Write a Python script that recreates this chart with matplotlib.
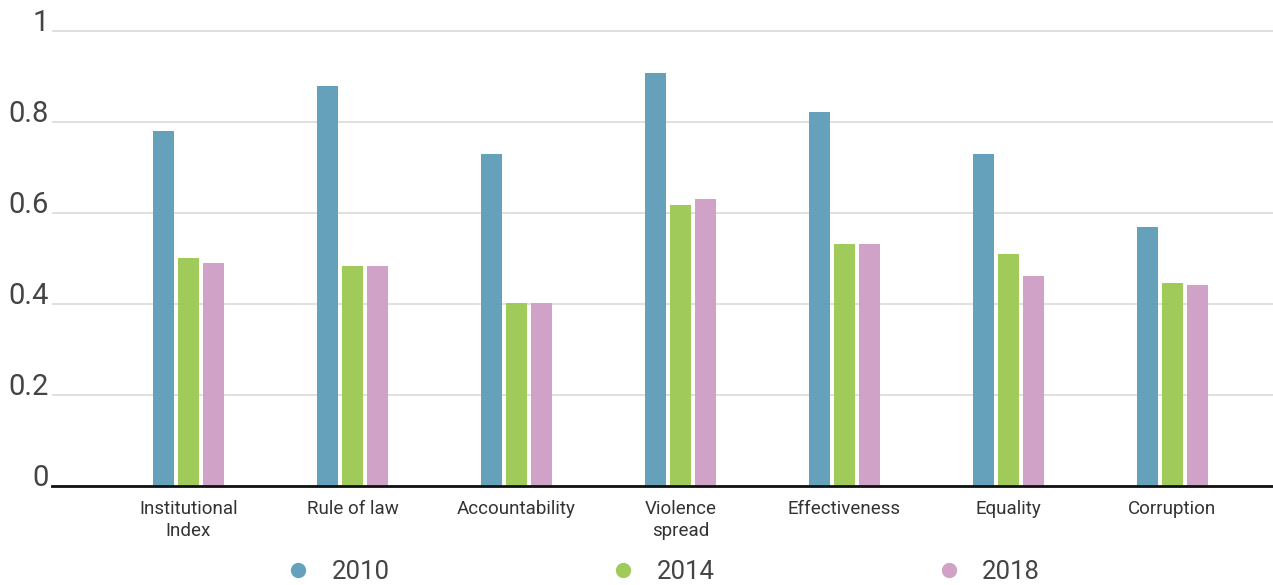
import numpy as np
import matplotlib.pyplot as plt
from matplotlib.lines import Line2D

categories = ['Institutional\nIndex', 'Rule of law', 'Accountability', 'Violence\nspread',
              'Effectiveness', 'Equality', 'Corruption']
years = ['2010', '2014', '2018']
vals_2010 = [0.780, 0.879, 0.730, 0.908, 0.822, 0.730, 0.569]
vals_2014 = [0.501, 0.484, 0.402, 0.618, 0.532, 0.510, 0.446]
vals_2018 = [0.490, 0.484, 0.402, 0.631, 0.532, 0.462, 0.442]
colors = ['#66a1bc', '#a0cb5a', '#d0a2c8']

plt.rcParams['font.family'] = ['Roboto', 'DejaVu Sans']
text_color = '#444444'

fig = plt.figure(figsize=(12.73, 5.85), dpi=100)
W, H = 1273, 585
ax = fig.add_axes([52 / W, (H - 486) / H, 1 - 52 / W, (486 - 25) / H])

x = np.arange(len(categories))
width = 0.128
step = 0.152
for i, (vals, c) in enumerate(zip([vals_2010, vals_2014, vals_2018], colors)):
    ax.bar(x + (i - 1) * step, vals, width=width, color=c, zorder=3)

ax.set_xlim(-0.832, 6.613)
ax.set_ylim(0, 461 / 455)
ax.set_yticks([0, 0.2, 0.4, 0.6, 0.8, 1.0])
ax.set_yticklabels(['0', '0.2', '0.4', '0.6', '0.8', '1'])
ax.yaxis.grid(True, color='#dddddd', linewidth=1.3, zorder=0)
ax.set_axisbelow(True)
ax.tick_params(axis='y', length=0, pad=2, labelsize=21, labelcolor=text_color)
for lab in ax.get_yticklabels():
    lab.set_verticalalignment('baseline')

ax.set_xticks(x)
ax.set_xticklabels(categories, linespacing=1.3)
ax.tick_params(axis='x', length=0, pad=10, labelsize=13.5, labelcolor='#333333')

for s in ['top', 'right', 'left']:
    ax.spines[s].set_visible(False)
ax.spines['bottom'].set_color('#111111')
ax.spines['bottom'].set_linewidth(2)
ax.spines['bottom'].set_zorder(4)

handles = [Line2D([], [], linestyle='none', marker='o', markersize=10,
                  markerfacecolor=c, markeredgecolor=c) for c in colors]
leg = fig.legend(handles, years, loc='center', bbox_to_anchor=(0.518, 1 - 572 / H),
                 ncol=3, frameon=False, fontsize=18.5, handletextpad=0.55,
                 handlelength=1.5, columnspacing=8.35, labelcolor=text_color)

fig.savefig('out.png', dpi=100)
